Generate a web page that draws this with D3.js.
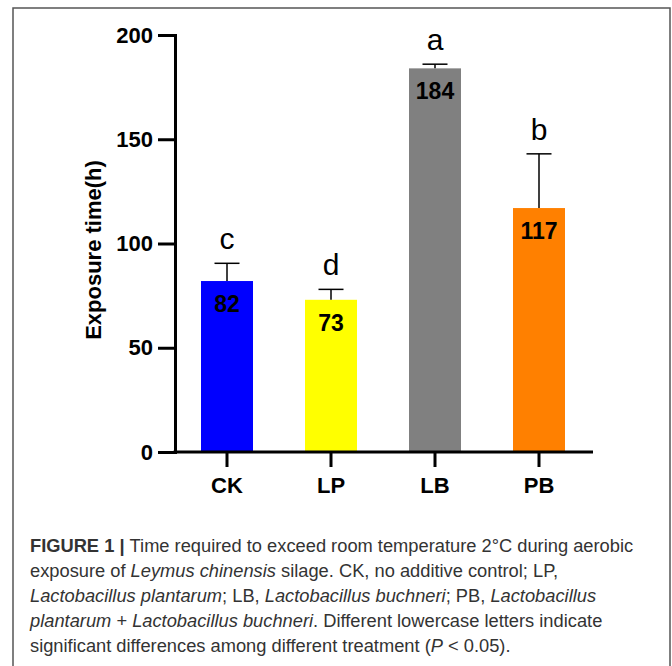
<!DOCTYPE html>
<html>
<head>
<meta charset="utf-8">
<script src="https://cdn.jsdelivr.net/npm/d3@7"></script>
<style>
  body { margin: 0; background: #fff; }
  svg text { font-family: "Liberation Sans", Arial, sans-serif; }
</style>
</head>
<body>
<div id="chart"></div>
<script>
// data
var groups = ["CK", "LP", "LB", "PB"];
var values = [82, 73, 184, 117];
var errors = [8.5, 5, 2, 26];
var letters = ["c", "d", "a", "b"];
var colors = ["#0000ff", "#ffff00", "#808080", "#ff8000"];
var yTicks = [0, 50, 100, 150, 200];

var captionLines = [
  [{t: "FIGURE 1 | ", b: true}, {t: "Time required to exceed room temperature 2°C during aerobic"}],
  [{t: "exposure of "}, {t: "Leymus chinensis", i: true}, {t: " silage. CK, no additive control; LP,"}],
  [{t: "Lactobacillus plantarum", i: true}, {t: "; LB, "}, {t: "Lactobacillus buchneri", i: true}, {t: "; PB, "}, {t: "Lactobacillus", i: true}],
  [{t: "plantarum", i: true}, {t: " + "}, {t: "Lactobacillus buchneri", i: true}, {t: ". Different lowercase letters indicate"}],
  [{t: "significant differences among different treatment ("}, {t: "P", i: true}, {t: " < 0.05)."}]
];

var width = 672, height = 666;
var svg = d3.select("#chart").append("svg")
  .attr("width", width)
  .attr("height", height);

// outer frame of the figure panel
svg.append("rect")
  .attr("x", 13).attr("y", 8)
  .attr("width", 657).attr("height", 700)
  .attr("fill", "none")
  .attr("stroke", "#555")
  .attr("stroke-width", 1.5);

// scales
var x = d3.scaleBand().domain(groups).range([175, 591]).paddingInner(0.5).paddingOuter(0.25);
var y = d3.scaleLinear().domain([0, 200]).range([452, 35]);

var g = svg.append("g");

// bars
g.selectAll(".bar").data(groups).enter().append("rect")
  .attr("x", function(d) { return x(d); })
  .attr("y", function(d, i) { return y(values[i]); })
  .attr("width", x.bandwidth())
  .attr("height", function(d, i) { return y(0) - y(values[i]); })
  .attr("fill", function(d, i) { return colors[i]; });

// error bars (upper only)
var capW = 25;
groups.forEach(function(d, i) {
  var cx = x(d) + x.bandwidth() / 2;
  g.append("line")
    .attr("x1", cx).attr("x2", cx)
    .attr("y1", y(values[i])).attr("y2", y(values[i] + errors[i]))
    .attr("stroke", "#000").attr("stroke-width", 1.5);
  g.append("line")
    .attr("x1", cx - capW / 2).attr("x2", cx + capW / 2)
    .attr("y1", y(values[i] + errors[i])).attr("y2", y(values[i] + errors[i]))
    .attr("stroke", "#000").attr("stroke-width", 1.5);
  // significance letters
  g.append("text")
    .attr("x", cx).attr("y", y(values[i] + errors[i]) - 14)
    .attr("text-anchor", "middle")
    .attr("font-size", "30px")
    .text(letters[i]);
  // value labels inside bar
  g.append("text")
    .attr("x", cx).attr("y", y(values[i]) + 31)
    .attr("text-anchor", "middle")
    .attr("font-size", "23px")
    .attr("font-weight", "bold")
    .text(values[i]);
});

// y axis
var yAxis = g.append("g")
  .attr("transform", "translate(175,0)")
  .call(d3.axisLeft(y).tickValues(yTicks).tickSize(17).tickPadding(5));
yAxis.select(".domain").attr("stroke-width", 3);
yAxis.selectAll(".tick line").attr("stroke-width", 3);
yAxis.selectAll("text")
  .attr("font-size", "22px").attr("font-weight", "bold")
  .attr("font-family", "Liberation Sans, Arial, sans-serif");

// x axis
var xAxis = g.append("g")
  .attr("transform", "translate(0,452)")
  .call(d3.axisBottom(x).tickSize(15).tickPadding(10));
xAxis.select(".domain").attr("d", "M173.5,0H593").attr("stroke-width", 3);
xAxis.selectAll(".tick line").attr("stroke-width", 3);
xAxis.selectAll("text")
  .attr("font-size", "22px").attr("font-weight", "bold")
  .attr("font-family", "Liberation Sans, Arial, sans-serif");

// y axis title
g.append("text")
  .attr("transform", "translate(101,250) rotate(-90)")
  .attr("text-anchor", "middle")
  .attr("font-size", "22px")
  .attr("font-weight", "bold")
  .text("Exposure time(h)");

// caption
var cap = svg.append("g").attr("fill", "#333");
captionLines.forEach(function(line, li) {
  var t = cap.append("text")
    .attr("x", 30).attr("y", 552 + li * 25)
    .attr("font-size", "18.3px");
  line.forEach(function(seg) {
    t.append("tspan")
      .attr("font-weight", seg.b ? "bold" : null)
      .attr("font-style", seg.i ? "italic" : null)
      .text(seg.t);
  });
});
</script>
</body>
</html>
